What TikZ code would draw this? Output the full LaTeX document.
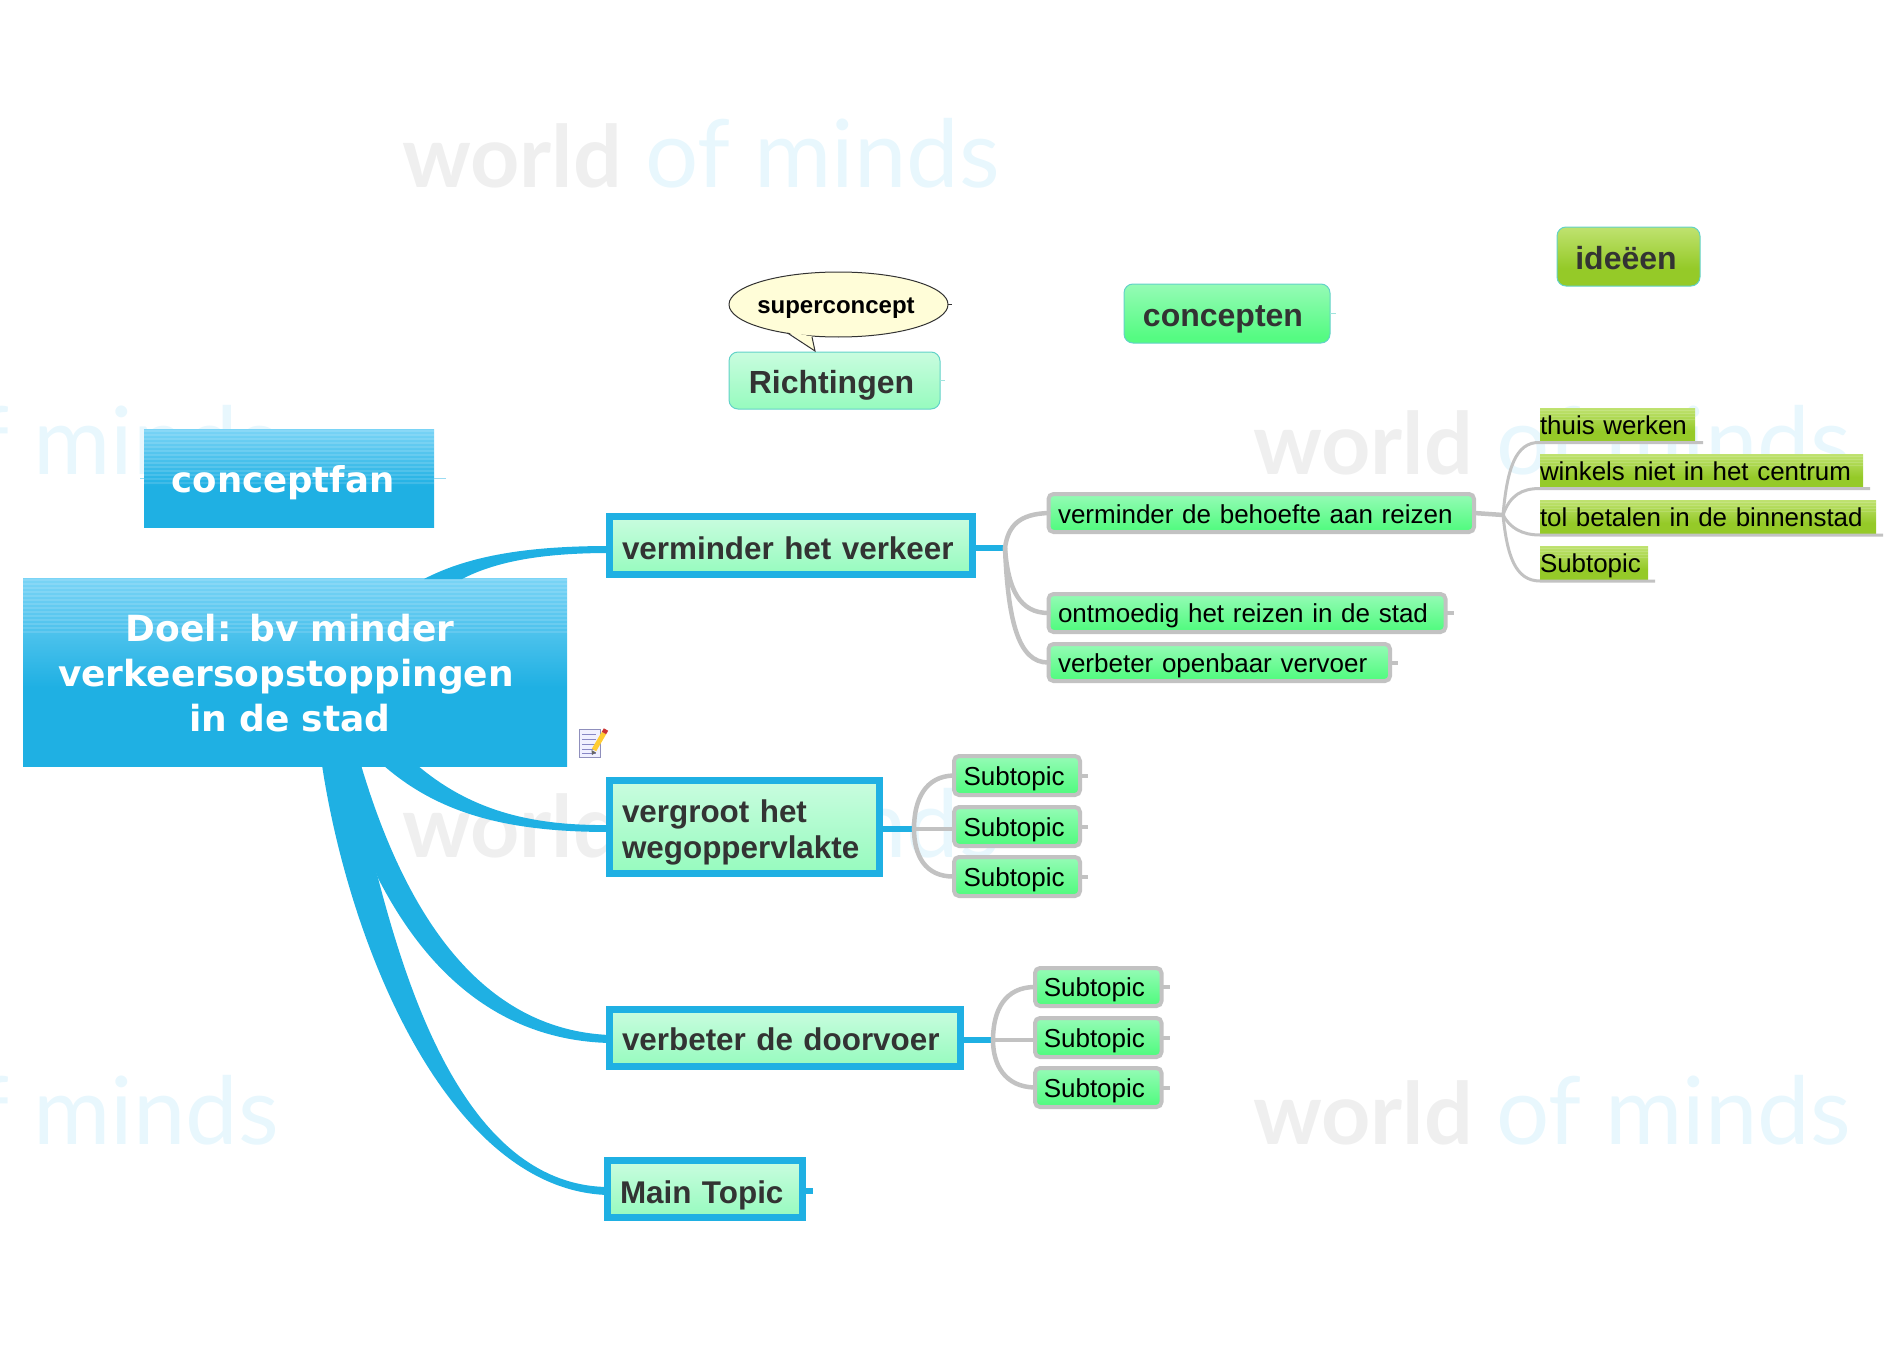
\documentclass[tikz,border=0pt]{standalone}
\usepackage{fontspec}
\setmainfont{Liberation Sans}
\newfontfamily\dejafont{DejaVu Sans}
\newfontfamily\wmfont{Lato}
\usetikzlibrary{calc,shapes.geometric}
\definecolor{cblue}{HTML}{1FB0E3}
\definecolor{cbluetop}{HTML}{7AD4F6}
\definecolor{cdark}{HTML}{333333}
\definecolor{cgrey}{HTML}{C2C2C2}
\definecolor{cteal}{HTML}{62D2C8}
\definecolor{wmgrey}{HTML}{EFEFEF}
\definecolor{wmblue}{HTML}{E8F7FD}
\definecolor{bubblefill}{HTML}{FFFDD8}
\pgfdeclareverticalshading{sblue}{100bp}{color(0bp)=(cblue); color(46bp)=(cblue); color(75bp)=(cbluetop); color(100bp)=(cbluetop)}
\definecolor{mintt}{HTML}{C9FCDF}\definecolor{mintb}{HTML}{96FBBE}
\pgfdeclareverticalshading{smint}{100bp}{color(0bp)=(mintb); color(25bp)=(mintb); color(75bp)=(mintt); color(100bp)=(mintt)}
\definecolor{greent}{HTML}{95FBB6}\definecolor{greenb}{HTML}{55FB82}
\pgfdeclareverticalshading{sgreen}{100bp}{color(0bp)=(greenb); color(30bp)=(greenb); color(75bp)=(greent); color(100bp)=(greent)}
\definecolor{limet}{HTML}{BFE270}\definecolor{limeb}{HTML}{95CA28}
\pgfdeclareverticalshading{slime}{100bp}{color(0bp)=(limeb); color(40bp)=(limeb); color(75bp)=(limet); color(100bp)=(limet)}
\tikzset{
  every node/.style={outer sep=0pt,inner ysep=0pt,anchor=north west},
  wh/.style n args={3}{minimum width=#1pt,minimum height=#2pt,text width=#3pt},
  wmg/.style={anchor=base west,inner sep=0pt,text=wmgrey,font=\wmfont\bfseries\fontsize{86}{86}\selectfont},
  wmb/.style={anchor=base west,inner sep=0pt,text=wmblue,font=\wmfont\fontsize{94}{94}\selectfont},
  rootbox/.style={shade,shading=sblue,inner xsep=0pt,align=center,text=white,
    font=\dejafont\bfseries\fontsize{36}{45}\selectfont,
    path picture={\foreach \k in {0,...,13}{\draw[white,opacity=.13,line width=1.6pt]
      ([yshift=-\k*4pt-2pt]path picture bounding box.north west) -- ([yshift=-\k*4pt-2pt]path picture bounding box.north east);}}},
  topic/.style={shade,shading=smint,draw=cblue,line width=7pt,inner xsep=12.5pt,align=left,text=cdark,
    text height=24pt,text depth=0pt,font=\bfseries\fontsize{31.4}{36}\selectfont},
  headmint/.style={shade,shading=smint,draw=cteal,line width=1pt,rounded corners=9pt,inner xsep=0pt,align=center,text=cdark,
    text height=25pt,text depth=0pt,font=\bfseries\fontsize{32}{36}\selectfont},
  headgreen/.style={headmint,shading=sgreen},
  headlime/.style={headmint,shading=slime},
  subt/.style={shade,shading=sgreen,draw=cgrey,line width=4pt,rounded corners=5pt,inner xsep=9.5pt,align=left,text=black,
    text height=18pt,text depth=0pt,font=\fontsize{26}{30}\selectfont},
  idea/.style={shade,shading=slime,inner xsep=0pt,align=left,text=black,text height=19pt,text depth=0pt,font=\fontsize{25.9}{30}\selectfont,
    path picture={\foreach \k in {0,...,3}{\draw[white,opacity=.15,line width=1pt]
      ([yshift=-\k*3pt-2pt]path picture bounding box.north west) -- ([yshift=-\k*3pt-2pt]path picture bounding box.north east);}}},
  bubble/.style={ellipse,draw=cdark,line width=1pt,fill=bubblefill,inner sep=0pt,anchor=center,
    minimum width=219pt,minimum height=65pt,text=black,text height=17pt,text depth=0pt,font=\bfseries\fontsize{24}{28}\selectfont},
  trunk/.style={fill=cblue,draw=none},
  bluestub/.style={draw=cblue,line width=6.5pt},
  greyline/.style={draw=cgrey,line width=4.5pt,line cap=round},
  ideaLine/.style={draw=cgrey,line width=3pt},
  hair/.style={draw=#1,line width=1pt},
}
\begin{document}
\begin{tikzpicture}[x=1pt,y=-1pt]
\useasboundingbox (0,0) rectangle (1892,1351);
\begin{scope}
\clip (0,0) rectangle (1892,1351);
% watermarks
\node[wmg] (wm1a) at (402,188) {world};
\node[wmb] (wm1b) at (645,188) {of minds};
\node[wmg] (wm2a) at (1253,474) {world};
\node[wmb] (wm2b) at (1496,474) {of minds};
\node[wmb] (wm3b) at (-76,474) {of minds};
\node[wmg] (wm4a) at (402,857) {world};
\node[wmb] (wm4b) at (645,857) {of minds};
\node[wmb] (wm5b) at (-76,1144) {of minds};
\node[wmg] (wm6a) at (1253,1144) {world};
\node[wmb] (wm6b) at (1496,1144) {of minds};
\end{scope}

% root and floating heads
\node[rootbox,wh={544}{188}{544},text height=20pt,text depth=82pt] (cent) at (23,578) {\kern-10pt\begin{tabular}[t]{@{}c@{}}Doel: bv minder\\verkeersopstoppingen\kern8pt\\in de stad\end{tabular}};
\node[rootbox,wh={290}{98}{290},text height=28pt,text depth=0pt,font=\dejafont\bfseries\fontsize{35.5}{42}\selectfont] (cf) at (144,429) {\kern-12pt conceptfan};
\node[headmint,wh={211}{57}{211}] (richt) at (729,352) {\kern-6pt Richtingen};
\node[headgreen,wh={206}{59}{206}] (conc) at (1124,284) {\kern-8pt concepten};
\node[headlime,wh={143}{59}{143}] (ideeen) at (1557,227) {\kern-5pt ide\"een};
\node[bubble] (super) at (838.5,304.5) {\kern-5pt superconcept};

% main topics
\node[topic,wh={363}{58}{338},text height=27pt] (vk) at (609.5,516.5) {verminder het verkeer};
\node[topic,wh={270}{93}{245},text height=22pt,text depth=31pt] (vw) at (609.5,780.5) {vergroot het\\wegoppervlakte};
\node[topic,wh={351}{57}{326}] (vd) at (609.5,1009.5) {verbeter de doorvoer};
\node[topic,wh={194.5}{57}{169.5},text height=28pt] (mt) at (607.5,1160.5) {Main Topic};

% subtopics of verminder het verkeer
\node[subt,wh={425.5}{38}{406.5},text height=21pt] (s1) at (1048.5,494) {verminder de behoefte aan reizen};
\node[subt,wh={397}{38}{378},text height=19pt] (s2) at (1048.5,594) {ontmoedig het reizen in de stad};
\node[subt,wh={341.5}{37}{322.5},text height=19pt] (s3) at (1048.5,644) {verbeter openbaar vervoer};
% subtopics of vergroot
\node[subt,wh={126}{39}{107},text height=20pt] (a1) at (954,756) {Subtopic};
\node[subt,wh={126}{39}{107},text height=20pt] (a2) at (954,807) {Subtopic};
\node[subt,wh={126}{39}{107},text height=20pt] (a3) at (954,857) {Subtopic};
% subtopics of doorvoer
\node[subt,inner xsep=8.5pt,wh={126.5}{38}{109}] (b1) at (1035,968) {Subtopic};
\node[subt,inner xsep=8.5pt,wh={126.5}{39}{109},text height=19pt] (b2) at (1035,1018) {Subtopic};
\node[subt,inner xsep=8.5pt,wh={126.5}{39}{109},text height=19pt] (b3) at (1035,1068) {Subtopic};
% ideas
\node[idea,wh={155}{33}{155}] (i1) at (1540,408) {thuis werken};
\node[idea,wh={323}{33}{323}] (i2) at (1540,454) {winkels niet in het centrum};
\node[idea,wh={336}{33}{336}] (i3) at (1540,500) {tol betalen in de binnenstad};
\node[idea,wh={108}{33}{108}] (i4) at (1540,546) {Subtopic};

% callout tail
\fill[bubblefill] ($(super.center)+(-51,27)$) -- ($(super.center)+(-23.5,46.5)$) -- ($(super.center)+(-26.5,32)$) -- cycle;
\draw[draw=cdark,line width=1pt] ($(super.center)+(-51,28.5)$) -- ($(super.center)+(-23.5,46.5)$) -- ($(super.center)+(-26.5,32.5)$);

% tapered trunks
\fill[trunk] ($(cent.north west)+(401,1)$) .. controls (470,555) and (530,546) .. ($(vk.west)+(0,0.5)$)
  -- ($(vk.west)+(0,7.5)$) .. controls (540,553) and (495,562) .. ($(cent.north west)+(439,1)$) -- cycle;
\fill[trunk] ($(cent.south west)+(360,-1)$) .. controls (440,815) and (510,832) .. ($(vw.west)+(0,5)$)
  -- ($(vw.west)+(0,-2)$) .. controls (530,826) and (470,810) .. ($(cent.south west)+(394,-1)$) -- cycle;
\fill[trunk] ($(cent.south west)+(338,-1)$) .. controls (410,930) and (490,1030) .. ($(vd.west)+(0,-3)$)
  -- ($(vd.west)+(0,5)$) .. controls (490,1040) and (420,960) .. (378,878) -- ($(cent.south west)+(316,-1)$) -- cycle;
\fill[trunk] ($(cent.south west)+(299,-1)$) .. controls (350,950) and (450,1190) .. ($(mt.west)+(0,6)$)
  -- ($(mt.west)+(0,-2)$) .. controls (470,1185) and (410,1000) .. (378,878) -- ($(cent.south west)+(325,-1)$) -- cycle;

% blue stubs
\coordinate (vkhub) at (1005,548);
\coordinate (vwhub) at (914,829);
\coordinate (vdhub) at (993,1040);
\coordinate (mtend) at (813,1191);
\draw[bluestub] (vk.east |- vkhub) -- (vkhub);
\draw[bluestub] (vw.east |- vwhub) -- (vwhub);
\draw[bluestub] (vd.east |- vdhub) -- (vdhub);
\draw[bluestub] (mt.east |- mtend) -- (mtend);

% grey branches
\draw[greyline] (vkhub) .. controls (1008,525) and (1020,514) .. (s1.west);
\draw[greyline] (vkhub) .. controls (1008,590) and (1020,613) .. (s2.west);
\draw[greyline] (vkhub) .. controls (1008,620) and (1018,663) .. (s3.west);
\draw[greyline] (vwhub) .. controls (914,800) and (925,776) .. (a1.west);
\draw[greyline] (vwhub) -- (vwhub -| a2.west);
\draw[greyline] (vwhub) .. controls (914,855) and (925,877) .. (a3.west);
\draw[greyline] (vdhub) .. controls (993,1010) and (1005,987) .. (b1.west);
\draw[greyline] (vdhub) -- (vdhub -| b2.west);
\draw[greyline] (vdhub) .. controls (993,1065) and (1005,1087) .. (b3.west);

% grey end stubs
\foreach \n/\l in {s2/8,s3/8,a1/8,a2/8,a3/8,b1/8,b2/8,b3/8}{\draw[draw=cgrey,line width=4pt] (\n.east) -- ++(\l,0);}

% idea branch
\coordinate (ihub) at (1503,515);
\draw[greyline] (s1.east) -- (ihub);
\draw[ideaLine] (ihub) .. controls (1507,470) and (1515,441.5) .. ($(i1.south west)+(0,1.5)$) -- ($(i1.south east)+(8,1.5)$);
\draw[ideaLine] (ihub) .. controls (1510,495) and (1522,488.5) .. ($(i2.south west)+(0,1.5)$) -- ($(i2.south east)+(7,1.5)$);
\draw[ideaLine] (ihub) .. controls (1510,528) and (1522,535) .. ($(i3.south west)+(0,2)$) -- ($(i3.south east)+(7,2)$);
\draw[ideaLine] (ihub) .. controls (1507,555) and (1515,581) .. ($(i4.south west)+(0,2)$) -- ($(i4.south east)+(7,2)$);

% hairline stubs
\draw[hair=cblue!45] (cf.west) -- ++(-4,0);
\draw[hair=cblue!45] (cf.east) -- ++(12,0);
\draw[hair=cteal!60] (richt.east) -- ++(5,0);
\draw[hair=cteal!60] (conc.east) -- ++(6,0);
\draw[hair=cdark] (super.east) -- ++(4,0);

% note icon
\fill[fill=blue!6!white,draw=blue!25!gray!70,line width=1pt] (579,729) rectangle (600,757);
\foreach \yy in {734,739,744,749,753}{\draw[blue!35!gray!70,line width=1pt] (582,\yy) -- (596,\yy);}
\draw[orange!50!yellow!80,line width=5pt] (594,750) -- (604,733);
\draw[red!60!gray,line width=5pt] (604,733) -- (606,729.5);
\fill[black!60] (592,755) -- (591.5,750) -- (596,752.5) -- cycle;
\end{tikzpicture}
\end{document}
